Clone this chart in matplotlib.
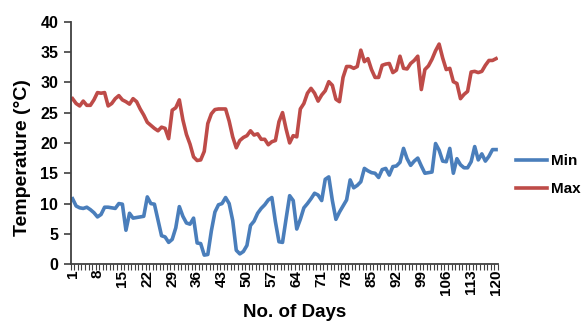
import numpy as np
import matplotlib
matplotlib.use("Agg")
import matplotlib.pyplot as plt

plt.rcParams['font.family'] = ['Liberation Sans', 'DejaVu Sans']
plt.rcParams['font.weight'] = 'bold'

# 数据：120天的最低/最高温度
days = np.arange(1, 121)
t_max = [27.3, 26.5, 26.1, 26.9, 26.2, 26.2, 27.1, 28.3, 28.2, 28.3,
         26.1, 26.5, 27.3, 27.8, 27.1, 26.8, 26.4, 27.3, 26.8, 25.6,
         24.6, 23.4, 22.9, 22.4, 22.0, 22.6, 22.4, 20.7, 25.4, 25.8,
         27.1, 23.8, 21.4, 19.8, 17.7, 17.1, 17.2, 18.6, 23.2, 24.8,
         25.5, 25.6, 25.6, 25.6, 23.6, 21.0, 19.2, 20.4, 20.9, 21.2,
         22.0, 21.3, 21.5, 20.6, 20.6, 19.7, 20.2, 20.4, 23.5, 25.0,
         22.3, 20.0, 21.2, 21.0, 25.6, 26.5, 28.2, 29.0, 28.2, 26.9,
         27.9, 28.6, 30.1, 29.5, 27.2, 26.8, 30.8, 32.6, 32.6, 32.3,
         32.6, 35.3, 33.4, 33.9, 32.1, 30.8, 30.8, 32.8, 33.0, 33.1,
         31.6, 32.0, 34.3, 32.3, 32.2, 33.1, 33.6, 34.3, 28.8, 32.1,
         32.7, 33.8, 35.2, 36.3, 34.0, 32.1, 32.3, 30.1, 29.8, 27.3,
         28.0, 28.5, 31.7, 31.8, 31.6, 31.8, 32.8, 33.6, 33.6, 33.9]
t_min = [10.8, 9.6, 9.3, 9.2, 9.4, 9.0, 8.5, 7.8, 8.2, 9.4,
         9.4, 9.3, 9.2, 10.0, 9.9, 5.6, 8.4, 7.6, 7.7, 7.8,
         7.9, 11.1, 10.0, 9.9, 7.3, 4.7, 4.5, 3.6, 4.1, 6.0,
         9.5, 7.9, 6.8, 6.6, 7.6, 3.5, 3.4, 1.5, 1.6, 5.5,
         8.6, 9.8, 10.0, 11.0, 10.0, 7.2, 2.3, 1.7, 2.1, 3.1,
         6.4, 7.1, 8.4, 9.2, 9.8, 10.6, 11.0, 7.0, 3.7, 3.6,
         7.5, 11.3, 10.5, 5.8, 7.4, 9.3, 10.0, 10.8, 11.7, 11.4,
         10.5, 14.0, 14.4, 10.5, 7.4, 8.6, 9.6, 10.6, 13.9, 12.6,
         13.0, 13.6, 15.8, 15.4, 15.1, 15.0, 14.3, 15.6, 15.8, 14.7,
         16.1, 16.2, 16.8, 19.1, 17.4, 16.3, 17.0, 17.5, 16.2, 15.0,
         15.1, 15.2, 19.9, 18.8, 17.0, 16.9, 19.1, 15.0, 17.4, 16.4,
         15.9, 15.9, 16.9, 19.4, 17.2, 18.2, 17.0, 17.8, 18.9, 18.9]
xtick_days = np.arange(1, 121, 7)

fig = plt.figure(figsize=(5.85, 3.23), dpi=100)
ax = fig.add_axes([0.121, 0.182, 0.730, 0.751])

ax.plot(days, t_min, color='#4A7EBB', lw=2.6, label='Min')
ax.plot(days, t_max, color='#BE4B48', lw=2.6, label='Max')

ax.set_xlim(0.5, 120.5)
ax.set_ylim(0, 40)
ax.set_yticks(np.arange(0, 41, 5))
ax.set_xticks(xtick_days)
ax.set_xticks(np.arange(0.5, 121, 1), minor=True)
ax.tick_params(axis='x', which='major', length=0, pad=4, rotation=90, labelsize=11)
ax.tick_params(axis='x', which='minor', length=4, width=0.8, color='#404040')
ax.tick_params(axis='y', length=5, width=1.2, color='#404040', labelsize=11.5, pad=4)
for lab in ax.get_xticklabels() + ax.get_yticklabels():
    lab.set_fontweight('bold')

for s in ['top', 'right']:
    ax.spines[s].set_visible(False)
for s in ['left', 'bottom']:
    ax.spines[s].set_color('#404040')
    ax.spines[s].set_linewidth(1.3)

ax.set_xlabel('No. of Days', fontsize=13.5, fontweight='bold')
ax.xaxis.set_label_coords(0.525, -0.165)
ax.set_ylabel('Temperature (°C)', fontsize=14, fontweight='bold')
ax.yaxis.set_label_coords(-0.092, 0.44)

fig.legend(loc='center left', bbox_to_anchor=(0.882, 0.458), frameon=False,
           borderpad=0, borderaxespad=0, handlelength=2.0, handletextpad=0.3,
           labelspacing=0.9, prop={'weight': 'bold', 'size': 11})

fig.savefig('out.png', dpi=100)
